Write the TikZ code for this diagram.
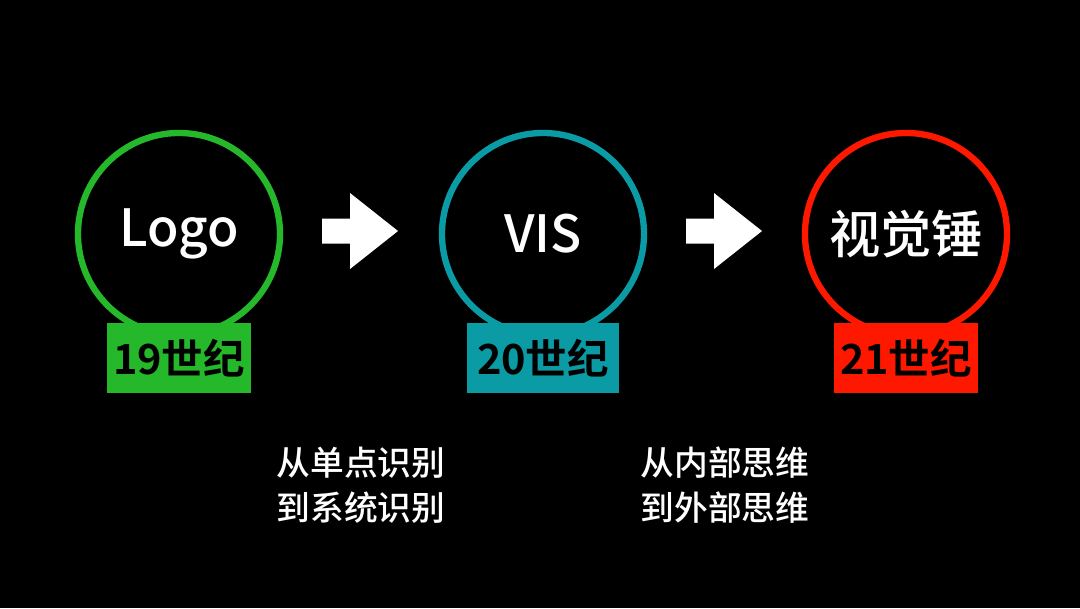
\documentclass[tikz,border=0pt]{standalone}
\usepackage{fontspec}
\setmainfont{Noto Sans CJK SC}[BoldFont={Noto Sans CJK SC Bold}]
\newfontfamily\midcjk{Noto Sans CJK SC Medium}
\usepackage{xcolor}
\definecolor{grass}{HTML}{25B82B}
\definecolor{lagoon}{HTML}{0A9BA5}
\definecolor{flame}{HTML}{FF1800}

\begin{document}
\begin{tikzpicture}[x=0.025cm, y=-0.025cm,
		ring/.style={circle, line width=4.5pt, minimum size=5.05cm, inner sep=0pt,
			text=white, font=\midcjk\fontsize{36.5}{42}\selectfont},
		era/.style={rectangle, minimum width=3.575cm, minimum height=1.75cm, inner sep=0pt,
			text=black, font=\bfseries\fontsize{29.5}{34}\selectfont},
		shift note/.style={align=left, text=white, inner sep=0pt,
			font=\midcjk\fontsize{24}{32}\selectfont}
	]
		\useasboundingbox (0,0) rectangle (1080,608);
		\fill[black] (0,0) rectangle (1080,608);
		%
		\begin{scope}[shift={(179,234)}]
			\node [ring, draw=grass] (logo) at (0,0) {Logo};
			\node [era, fill=grass] (c19) at (0,124) {19世纪};
		\end{scope}
		%
		\begin{scope}[shift={(543,234)}]
			\node [ring, draw=lagoon] (vis) at (0,0) {VIS};
			\node [era, fill=lagoon, minimum width=3.775cm] (c20) at (0,124) {20世纪};
		\end{scope}
		%
		\begin{scope}[shift={(906,234)}]
			\node [ring, draw=flame] (hammer) at (0,0) {视觉锤};
			\node [era, fill=flame] (c21) at (0,124) {21世纪};
		\end{scope}
		%
		\foreach \cx in {360,724}{
			\fill[white] (\cx-38,218.5) -- (\cx-10,218.5) -- (\cx-10,193) -- (\cx+38,231)
				-- (\cx-10,269) -- (\cx-10,243.5) -- (\cx-38,243.5) -- cycle;
		}
		%
		\node [shift note] (note1) at (361,485) {从单点识别\\到系统识别};
		\node [shift note] (note2) at (725,485) {从内部思维\\到外部思维};
	\end{tikzpicture}
\end{document}
